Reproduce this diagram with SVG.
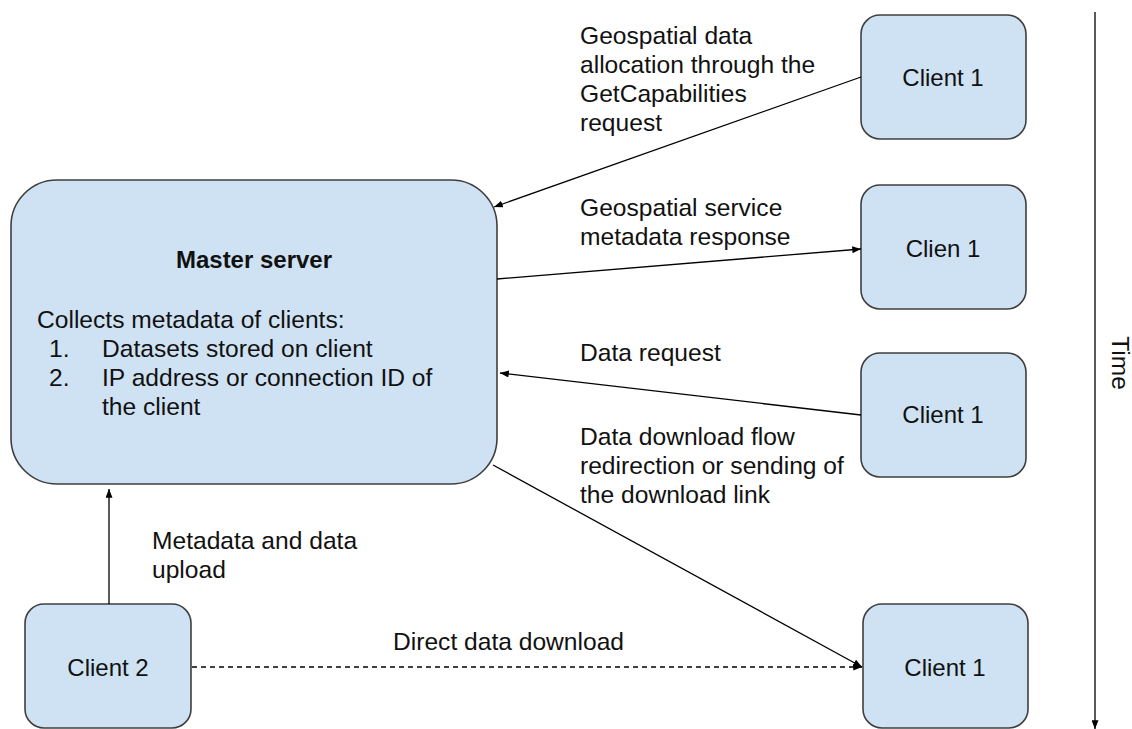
<svg xmlns="http://www.w3.org/2000/svg" width="1132" height="729" viewBox="0 0 1132 729">
  <style>
    .node rect { fill: #cfe2f3; stroke: #3f3f3f; stroke-width: 1.6; }
    text { font-family: "Liberation Sans", Arial, sans-serif; font-size: 24.6px; fill: #111; }
    .node text.cl { font-size: 24px; }
    .ctr { text-anchor: middle; }
    .bold { font-weight: bold; font-size: 24px; }
    .conn line { stroke: #000; stroke-width: 1.3; fill: none; }
    .dash { stroke-dasharray: 5 4; }
  </style>
  <defs>
    <marker id="arr" viewBox="0 0 10 8" refX="10" refY="4" markerWidth="9" markerHeight="7" markerUnits="userSpaceOnUse" orient="auto">
      <path d="M0,0 L10,4 L0,8 z" fill="#000"/>
    </marker>
  </defs>
  <rect width="1132" height="729" fill="#fff"/>

  <g id="master" class="node">
    <rect x="11" y="180" width="486" height="304" rx="46" ry="46"/>
    <text class="ctr bold" x="254" y="268">Master server</text>
    <text x="37" y="328">Collects metadata of clients:</text>
    <text x="49" y="357">1.</text>
    <text x="102" y="357">Datasets stored on client</text>
    <text x="49" y="386">2.</text>
    <text x="102" y="386">IP address or connection ID of</text>
    <text x="102" y="415">the client</text>
  </g>

  <g id="client1a" class="node">
    <rect x="861" y="15" width="165" height="124" rx="19" ry="19"/>
    <text class="ctr cl" x="943" y="86">Client 1</text>
  </g>
  <g id="client1b" class="node">
    <rect x="861" y="185" width="165" height="124" rx="19" ry="19"/>
    <text class="ctr cl" x="943" y="257">Clien 1</text>
  </g>
  <g id="client1c" class="node">
    <rect x="861" y="353" width="165" height="124" rx="19" ry="19"/>
    <text class="ctr cl" x="943" y="423">Client 1</text>
  </g>
  <g id="client1d" class="node">
    <rect x="863" y="604" width="165" height="124" rx="19" ry="19"/>
    <text class="ctr cl" x="945" y="676">Client 1</text>
  </g>
  <g id="client2" class="node">
    <rect x="25" y="604" width="166" height="124" rx="19" ry="19"/>
    <text class="ctr cl" x="108" y="676">Client 2</text>
  </g>

  <g id="connectors" class="conn">
    <line x1="861" y1="77" x2="494" y2="207" marker-end="url(#arr)"/>
    <line x1="497" y1="279" x2="861" y2="249" marker-end="url(#arr)"/>
    <line x1="861" y1="415" x2="500" y2="373" marker-end="url(#arr)"/>
    <line x1="493" y1="465" x2="862" y2="667" marker-end="url(#arr)"/>
    <line class="dash" x1="192" y1="667" x2="862" y2="667" marker-end="url(#arr)"/>
    <line x1="109" y1="604" x2="109" y2="489" marker-end="url(#arr)"/>
    <line x1="1095" y1="12" x2="1095" y2="729" marker-end="url(#arr)"/>
  </g>

  <g id="labels">
    <text x="580" y="44">Geospatial data</text>
    <text x="580" y="73">allocation through the</text>
    <text x="580" y="102">GetCapabilities</text>
    <text x="580" y="131">request</text>
    <text x="580" y="216">Geospatial service</text>
    <text x="580" y="245">metadata response</text>
    <text x="580" y="361">Data request</text>
    <text x="580" y="445">Data download flow</text>
    <text x="580" y="474">redirection or sending of</text>
    <text x="580" y="503">the download link</text>
    <text x="152" y="549">Metadata and data</text>
    <text x="152" y="578">upload</text>
    <text x="393" y="650">Direct data download</text>
    <text class="ctr" transform="translate(1112,363) rotate(90)">Time</text>
  </g>
</svg>
